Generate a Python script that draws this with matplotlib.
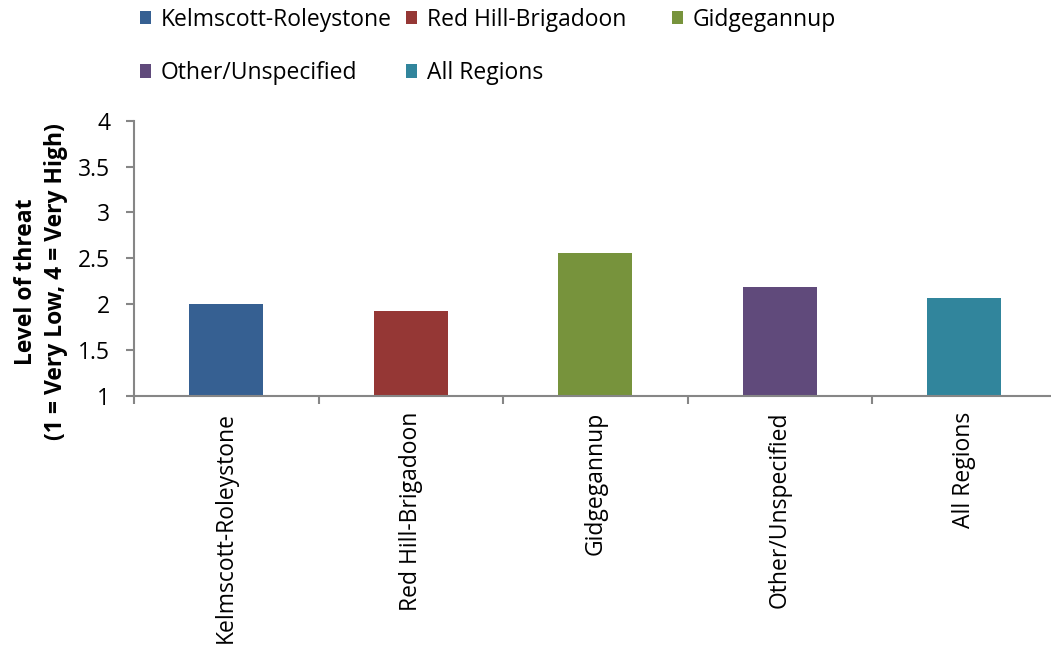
import numpy as np
import matplotlib.pyplot as plt
from matplotlib.patches import Patch
from matplotlib.ticker import FuncFormatter

plt.rcParams['font.family'] = ['Open Sans', 'DejaVu Sans']

regions = ['Kelmscott-Roleystone', 'Red Hill-Brigadoon', 'Gidgegannup', 'Other/Unspecified', 'All Regions']
threat = [2.00, 1.93, 2.56, 2.19, 2.07]
colours = ['#366092', '#953735', '#77933C', '#604A7B', '#31859C']
y_ticks = [1, 1.5, 2, 2.5, 3, 3.5, 4]

axis_grey = '#868686'
fs = 16.5

fig = plt.figure(figsize=(10.51, 6.55), dpi=100)
ax = fig.add_axes([134/1051, 1 - 396/655, 922.5/1051, 275.3/655])

x = np.arange(len(regions))
ax.bar(x, np.array(threat) - 1, bottom=1, width=0.4, color=colours)

ax.set_xlim(-0.5, len(regions) - 0.5)
ax.set_ylim(1, 4)
ax.set_yticks(y_ticks)
ax.yaxis.set_major_formatter(FuncFormatter(lambda v, p: '%g' % v))

# tick marks sit between categories, labels sit under the bars
ax.set_xticks(np.arange(-0.5, len(regions), 1))
ax.set_xticklabels([])
ax.set_xticks(x, regions, minor=True, rotation=90, va='top', ha='center')

for s in ['top', 'right']:
    ax.spines[s].set_visible(False)
for s in ['left', 'bottom']:
    ax.spines[s].set_color(axis_grey)
    ax.spines[s].set_linewidth(1.5)

ax.tick_params(axis='both', which='major', color=axis_grey, width=1.5, length=6,
               labelsize=fs, direction='out')
ax.tick_params(axis='y', pad=11)
ax.tick_params(axis='x', which='minor', length=0, pad=11.5, labelsize=fs)

fig.text(41/1051, 1 - 282/655, 'Level of threat\n(1 = Very Low, 4 = Very High)',
         rotation=90, ha='center', va='center', multialignment='center',
         fontsize=fs, fontweight='bold', linespacing=1.35)

# legend laid out row by row, one legend per column
columns = [[0, 3], [1, 4], [2]]
col_x = [140, 406, 672]
for cx, idx in zip(col_x, columns):
    handles = [Patch(facecolor=colours[i], edgecolor='none', label=regions[i]) for i in idx]
    fig.legend(handles=handles, loc='upper left', bbox_to_anchor=(cx/1051, 1 - 8/655),
               frameon=False, fontsize=fs, borderpad=0, borderaxespad=0,
               handlelength=0.5, handleheight=0.5, handletextpad=0.4,
               labelspacing=1.27)

fig.savefig('out.png', dpi=100)
